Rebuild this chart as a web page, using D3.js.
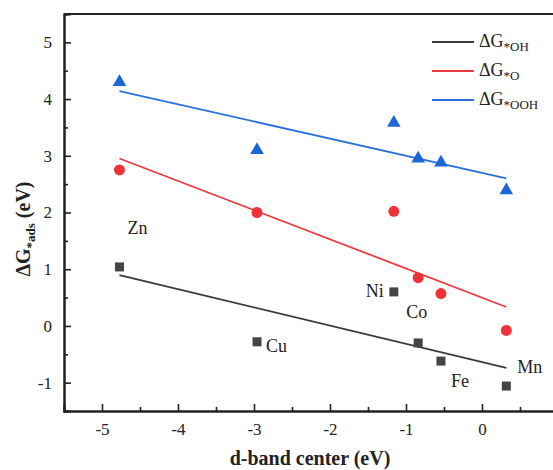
<!DOCTYPE html>
<html>
<head>
<meta charset="utf-8">
<script src="https://cdn.jsdelivr.net/npm/d3@7"></script>
</head>
<body style="margin:0;background:#fff;overflow:hidden">
<svg id="chart" width="553" height="470"></svg>
<script>
// d-band centre of each metal site (eV)
const metals = ["Zn", "Cu", "Ni", "Co", "Fe", "Mn"];
const dBand  = [-4.77, -2.96, -1.16, -0.84, -0.54, 0.32];

// adsorption free energies (eV)
const gOH  = [1.04, -0.28, 0.60, -0.30, -0.62, -1.06];
const gO   = [2.75, 2.00, 2.02, 0.85, 0.57, -0.08];
const gOOH = [4.30, 3.10, 3.58, 2.95, 2.88, 2.39];

const xTicks = [-5, -4, -3, -2, -1, 0, 1];
const yTicks = [-1, 0, 1, 2, 3, 4, 5];

// label offsets for each metal name, relative to its *OH point
const labelPos = [
  { dx: 8, dy: -37 },    // Zn
  { dx: 9, dy: 6 },      // Cu
  { dx: -28, dy: 1 },    // Ni
  { dx: -12, dy: -29 },  // Co
  { dx: 10, dy: 22 },    // Fe
  { dx: 11, dy: -17 }    // Mn
];

const series = [
  { key: "OH",  sub: "*OH",  values: gOH,  color: "#444444", line: "#3a3a3a", shape: "square" },
  { key: "O",   sub: "*O",   values: gO,   color: "#ee3338", line: "#ea3a3f", shape: "circle" },
  { key: "OOH", sub: "*OOH", values: gOOH, color: "#1c67d8", line: "#2a70dc", shape: "triangle" }
];

const FONT = '"Liberation Serif"';

const svg = d3.select("#chart");
const m = { left: 64, top: 14, bottom: 411 };

const x = d3.scaleLinear().domain([-5.5, 1.5]).range([m.left, m.left + 7 * 76]);
const y = d3.scaleLinear().domain([-1.5, 5.5]).range([m.bottom, m.top]);

// least-squares fit of a series against the d-band centre
function fit(xs, ys) {
  const mx = d3.mean(xs), my = d3.mean(ys);
  let sxy = 0, sxx = 0;
  xs.forEach((v, i) => { sxy += (v - mx) * (ys[i] - my); sxx += (v - mx) * (v - mx); });
  const k = sxy / sxx;
  return v => my + k * (v - mx);
}

const fmt = d => String(d);

// axes with inward ticks; minor ticks at the half units
const xAxis = d3.axisBottom(x).tickValues(xTicks).tickSize(-7).tickPadding(12).tickFormat(fmt);
const xMinor = d3.axisBottom(x).tickValues(d3.range(-5.5, 1.6, 0.5).filter(v => Math.abs(v % 1) > 0.1)).tickSize(-4).tickFormat("");
const yAxis = d3.axisLeft(y).tickValues(yTicks).tickSize(-7).tickPadding(12).tickFormat(fmt);
const yMinor = d3.axisLeft(y).tickValues(d3.range(-1.5, 5.6, 0.5).filter(v => Math.abs(v % 1) > 0.1)).tickSize(-4).tickFormat("");

function styleAxis(g) {
  g.select(".domain").attr("stroke", "#222").attr("stroke-width", 2);
  g.selectAll(".tick line").attr("stroke", "#222").attr("stroke-width", 1.6);
  g.selectAll(".tick text").attr("fill", "#222")
    .style("font-family", FONT).style("font-size", "17px");
}

svg.append("g").attr("transform", `translate(0,${m.bottom})`).call(xAxis).call(styleAxis);
svg.append("g").attr("transform", `translate(0,${m.bottom})`).call(xMinor).call(styleAxis);
svg.append("g").attr("transform", `translate(${m.left},0)`).call(yAxis).call(styleAxis);
svg.append("g").attr("transform", `translate(${m.left},0)`).call(yMinor).call(styleAxis);

// top frame line
svg.append("line")
  .attr("x1", m.left).attr("x2", x(1.5)).attr("y1", m.top).attr("y2", m.top)
  .attr("stroke", "#222").attr("stroke-width", 2);

// fitted lines
const x0 = d3.min(dBand), x1 = d3.max(dBand);
series.forEach(s => {
  const f = fit(dBand, s.values);
  svg.append("line")
    .attr("x1", x(x0)).attr("y1", y(f(x0)))
    .attr("x2", x(x1)).attr("y2", y(f(x1)))
    .attr("stroke", s.line).attr("stroke-width", 1.8);
});

// markers
const tri = d3.symbol().type(d3.symbolTriangle).size(80);
series.forEach(s => {
  const g = svg.append("g").attr("fill", s.color);
  s.values.forEach((v, i) => {
    const cx = x(dBand[i]), cy = y(v);
    if (s.shape === "square") {
      g.append("rect").attr("x", cx - 4.5).attr("y", cy - 4.5).attr("width", 9).attr("height", 9);
    } else if (s.shape === "circle") {
      g.append("circle").attr("cx", cx).attr("cy", cy).attr("r", 5.5);
    } else {
      g.append("path").attr("d", tri).attr("transform", `translate(${cx},${cy})`);
    }
  });
});

// metal names
metals.forEach((name, i) => {
  svg.append("text")
    .attr("x", x(dBand[i]) + labelPos[i].dx)
    .attr("y", y(gOH[i]) + labelPos[i].dy)
    .attr("dominant-baseline", "middle")
    .style("font-family", FONT).style("font-size", "18px").attr("fill", "#222")
    .text(name);
});

// legend
const leg = svg.append("g").attr("transform", "translate(432,42)");
series.forEach((s, i) => {
  const row = leg.append("g").attr("transform", `translate(0,${i * 29})`);
  row.append("line").attr("x1", 0).attr("x2", 42).attr("y1", 0).attr("y2", 0)
    .attr("stroke", s.line).attr("stroke-width", 1.8);
  const t = row.append("text").attr("x", 47).attr("y", 5)
    .style("font-family", FONT).style("font-size", "18px").attr("fill", "#222");
  t.append("tspan").text("ΔG");
  t.append("tspan").attr("dy", 4).style("font-size", "13px").text(s.sub);
});

// axis titles
svg.append("text")
  .attr("x", 310).attr("y", 465).attr("text-anchor", "middle")
  .style("font-family", FONT).style("font-size", "20px").style("font-weight", "bold").attr("fill", "#222")
  .text("d-band center (eV)");

const yt = svg.append("text")
  .attr("transform", "translate(30,229) rotate(-90)")
  .attr("text-anchor", "middle")
  .style("font-family", FONT).style("font-size", "20px").style("font-weight", "bold").attr("fill", "#222");
yt.append("tspan").text("ΔG");
yt.append("tspan").attr("dy", 5).style("font-size", "13px").text("*ads");
yt.append("tspan").attr("dy", -5).text(" (eV)");
</script>
</body>
</html>
